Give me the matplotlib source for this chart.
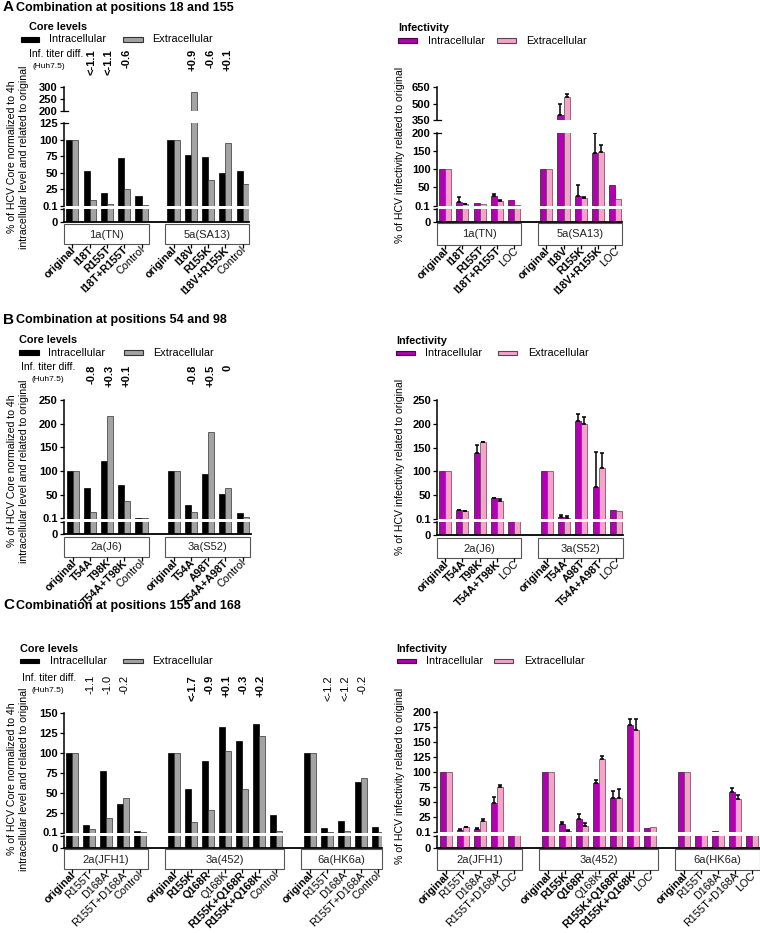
import numpy as np
import matplotlib
matplotlib.use("Agg")
import matplotlib.pyplot as plt  # noqa: E402
import matplotlib.transforms as mtransforms  # noqa: E402
from matplotlib.patches import Rectangle  # noqa: E402

plt.rcParams["font.family"] = ["Liberation Sans", "DejaVu Sans"]

W, H = 760, 933

# ---------------- data ----------------
A_groups = ["1a(TN)", "5a(SA13)"]
A_core_labels = ["original", "I18T", "R155T", "I18T+R155T", "Control",
                 "original", "I18V", "R155K", "I18V+R155K", "Control"]
A_inf_labels = ["original", "I18T", "R155T", "I18T+R155T", "LOC",
                "original", "I18V", "R155K", "I18V+R155K", "LOC"]
A_core_intra = [100, 53, 19, 72, 15, 100, 76, 74, 50, 52]
A_core_extra = [100, 9, 3, 25, 1, 100, 277, 38, 94, 33]
A_titer = ["", "<-1.1", "<-1.1", "-0.6", "", "", "+0.9", "-0.6", "+0.1", ""]
A_inf_intra = [100, 11, 6, 26, 14, 100, 397, 27, 144, 57]
A_inf_intra_err = [0, 12, 0, 6, 0, 0, 96, 30, 56, 0]
A_inf_extra = [100, 4, 3, 13, 2.5, 100, 561, 20, 148, 17]
A_inf_extra_err = [0, 1, 0, 2, 0, 0, 21, 4, 17, 0]

B_groups = ["2a(J6)", "3a(S52)"]
B_core_labels = ["original", "T54A", "T98K", "T54A+T98K", "Control",
                 "original", "T54A", "A98T", "T54A+A98T", "Control"]
B_inf_labels = ["original", "T54A", "T98K", "T54A+T98K", "LOC",
                "original", "T54A", "A98T", "T54A+A98T", "LOC"]
B_core_intra = [100, 65, 121, 71, 2, 100, 29, 94, 52, 11]
B_core_extra = [100, 13, 216, 36, 0.5, 100, 13, 182, 65, 2.5]
B_titer = ["", "-0.8", "+0.3", "+0.1", "", "", "-0.8", "+0.5", "0", ""]
B_inf_intra = [100, 18.5, 138, 43.5, 1, 100, 5, 205, 68, 18.5]
B_inf_intra_err = [0, 0.8, 17.5, 0.8, 0, 0, 4, 16, 72, 0]
B_inf_extra = [100, 17, 161, 38, 1, 100, 3, 200.5, 108, 17]
B_inf_extra_err = [0, 0.6, 1.5, 3.5, 0, 0, 3, 13.5, 31.5, 0]

C_groups = ["2a(JFH1)", "3a(452)", "6a(HK6a)"]
C_core_labels = ["original", "R155T", "D168A", "R155T+D168A", "Control",
                 "original", "R155K", "Q168R", "Q168K", "R155K+Q168R", "R155K+Q168K", "Control",
                 "original", "R155T", "D168A", "R155T+D168A", "Control"]
C_inf_labels = [lab if lab != "Control" else "LOC" for lab in C_core_labels]
C_core_intra = [100, 9.6, 78, 36, 2, 100, 54.6, 90, 133, 115, 136, 22, 100, 5.4, 15, 64, 6.6]
C_core_extra = [100, 4.6, 18, 43, 0.5, 100, 13.4, 28, 102, 55, 121, 2.5, 100, 0.5, 2.5, 69, 0.5]
C_titer = ["", "-1.1", "-1.0", "-0.2", "", "", "<-1.7", "-0.9", "+0.1", "-0.3", "+0.2", "",
           "", "<-1.2", "<-1.2", "-0.2", ""]
C_inf_intra = [100, 3.9, 6, 49.4, 1, 100, 13.3, 22.8, 82.8, 56.7, 179.4, 7.8, 100, 1, 2.2, 67.8, 1]
C_inf_intra_err = [0, 1, 1, 10, 0, 0, 3.4, 8.2, 4.4, 12.2, 9.5, 0, 0, 0, 0, 6.1, 0]
C_inf_extra = [100, 8.3, 18.3, 75, 1, 100, 2.8, 11, 121.7, 57.8, 170, 9.4, 100, 1, 1, 55, 1]
C_inf_extra_err = [0, 1, 4.5, 4.4, 0, 0, 1.1, 4, 5, 14.4, 18.9, 0, 0, 0, 0, 7.2, 0]

AB_bold = {"original", "I18T", "R155T", "I18T+R155T", "I18V", "R155K", "I18V+R155K",
           "T54A", "T98K", "T54A+T98K", "A98T", "T54A+A98T"}
C_bold = {"original", "R155K", "Q168R", "R155K+Q168R", "R155K+Q168K"}

CORE = (("#000000", "#000000"), ("#a3a3a3", "#333333"))
INF = (("#b000b0", "#4a004a"), ("#f5a3c8", "#5e4452"))
BW = 0.35

fig = plt.figure(figsize=(W / 100, H / 100), dpi=100)
base = fig.add_axes([0, 0, 1, 1])
base.set_xlim(0, W)
base.set_ylim(H, 0)
base.axis("off")


def px_axes(x0, y_top, x1, y_bot):
    return fig.add_axes([x0 / W, 1 - y_bot / H, (x1 - x0) / W, (y_bot - y_top) / H])


def positions(sizes, gap):
    out, start = [], 0.0
    for n in sizes:
        out.extend(start + np.arange(n))
        start += n + gap
    return np.array(out)


def fmt(v):
    return "0.1" if v == 0.1 else f"{v:g}"


def panel(spine, right, origin, slot, segs, box_y, sizes, gap, box_pad, groups, labels,
          bold, intra, extra, style, err_in=None, err_ex=None,
          titer=None, titer_top=None, titer_bold=None):
    pos = positions(sizes, gap)
    xlim = ((spine - origin) / slot, (right - origin) / slot)
    wpx = right - spine
    (fc_in, ec_in), (fc_ex, ec_ex) = style
    low = None
    nseg = len(segs)
    for i, (lo, hi, yb, yt, ticks) in enumerate(segs):
        ax = px_axes(spine, yt, right, yb)
        ax.set_facecolor("none")
        ax.bar(pos - BW / 2, intra, BW, color=fc_in, edgecolor=ec_in, linewidth=0.5, zorder=2)
        ax.bar(pos + BW / 2, extra, BW, color=fc_ex, edgecolor=ec_ex, linewidth=0.5, zorder=2)
        if err_in is not None:
            for off, vals, errs in ((-BW / 2, intra, err_in), (BW / 2, extra, err_ex)):
                errs = np.asarray(errs, float)
                m = errs > 0
                ax.errorbar(pos[m] + off, np.asarray(vals, float)[m],
                            yerr=[np.zeros(m.sum()), errs[m]], fmt="none", ecolor="black",
                            elinewidth=1.1, capsize=1.6, capthick=1.1, zorder=3)
        ax.set_xlim(xlim)
        ax.set_ylim(lo, hi)
        ax.set_xticks([])
        ax.set_yticks(ticks)
        ax.set_yticklabels(["" if (i == 0 and t == hi) else fmt(t) for t in ticks],
                           fontsize=8, fontweight="bold")
        ax.tick_params(axis="y", length=3, width=0.9, pad=1.5)
        ax.spines[["top", "right"]].set_visible(False)
        ax.spines["left"].set_linewidth(1.1)
        if i == 0:
            ax.spines["bottom"].set_linewidth(1.3)
            low = ax
        else:
            ax.spines["bottom"].set_visible(False)
        tr = mtransforms.blended_transform_factory(ax.transAxes, ax.transData)
        hooks = []
        if 1 <= i < nseg - 1:
            hooks.append(hi)
        if i >= 2:
            hooks.append(lo)
        for hv in hooks:
            ax.plot([0, 4 / wpx], [hv, hv], transform=tr, color="black", lw=0.9, clip_on=False)

    trans = mtransforms.blended_transform_factory(low.transData, base.transData)
    start = 0
    for g, n in enumerate(sizes):
        a = max(pos[start] - 0.5, xlim[0])
        b = min(pos[start + n - 1] + box_pad, xlim[1])
        base.add_patch(Rectangle((a, box_y[0]), b - a, box_y[1] - box_y[0], transform=trans,
                                 facecolor="white", edgecolor="#555555", lw=0.8, clip_on=False))
        base.text((a + b) / 2, (box_y[0] + box_y[1]) / 2 + 0.5, groups[g], transform=trans,
                  ha="center", va="center", fontsize=8, color="#222222")
        start += n
    base.vlines(pos, box_y[1], box_y[1] + 3.5, transform=trans, color="black", lw=0.9)
    for x, lab in zip(pos, labels):
        base.text(x + 0.12, box_y[1] + 4.0, lab, transform=trans, rotation=45,
                  rotation_mode="anchor", ha="right", va="center", fontsize=7.8,
                  fontweight="bold" if lab in bold else "normal")
    if titer is not None:
        start = 0
        for g, n in enumerate(sizes):
            for k in range(start, start + n):
                if titer[k]:
                    base.text(pos[k] + 0.12, titer_top, titer[k], transform=trans, rotation=90,
                              ha="center", va="top", fontsize=8,
                              fontweight="bold" if titer_bold[g] else "normal")
            start += n


def key(x0, x1, yc, fc, ec, tx, txt):
    base.add_patch(Rectangle((x0, yc - 2.2), x1 - x0, 4.4, facecolor=fc, edgecolor=ec, lw=0.8))
    base.text(tx, yc, txt, fontsize=7.8, va="center", ha="left")


def header(xh, yh, head, style, kx, yk):
    base.text(xh, yh, head, fontsize=7.8, fontweight="bold", va="center", ha="left")
    (fi, ei), (fe, ee) = style
    key(kx[0], kx[1], yk, fi, ei, kx[2], "Intracellular")
    key(kx[3], kx[4], yk, fe, ee, kx[5], "Extracellular")


def titer_head(x, y, hx):
    base.text(x, y, "Inf. titer diff.", fontsize=7.5, va="center", ha="left")
    base.text(hx, y + 12.5, "(Huh7.5)", fontsize=6, va="center", ha="left")


CORE_YLABEL = "% of HCV Core normalized to 4h\nintracellular level and related to original"
INF_YLABEL = "% of HCV infectivity related to original"


def ylabel(x, y, txt):
    base.text(x, y, txt, rotation=90, ha="center", va="center", multialignment="center",
              fontsize=7.6, linespacing=1.2)


def title(y, letter, txt):
    base.text(3, y, letter, fontsize=11, fontweight="bold", va="center", ha="left")
    base.text(16, y + 0.5, txt, fontsize=9, fontweight="bold", va="center", ha="left")


# ---------------- panel A ----------------
title(7.2, "A", "Combination at positions 18 and 155")
header(29.3, 26.7, "Core levels", CORE, (20.7, 39.3, 49.3, 123, 143, 151.7), 39.5)
titer_head(29.3, 54, 32.3)
ylabel(18.3, 157, CORE_YLABEL)
panel(64, 249, 72.3, 17.3,
      [(0, 0.1, 221.7, 208.5, [0, 0.1]),
       (0.1, 125, 205.5, 123, [0.1, 25, 50, 75, 100, 125]),
       (200, 300, 110.7, 86.7, [200, 250, 300])],
      (224, 244.3), [5, 5], 0.85, 0.42, A_groups, A_core_labels, AB_bold,
      A_core_intra, A_core_extra, CORE, titer=A_titer, titer_top=49, titer_bold=[True, True])

header(398.3, 28.3, "Infectivity", INF, (398, 416.7, 427.7, 497, 516, 525.7), 40.5)
ylabel(400, 155, INF_YLABEL)
panel(436.7, 622.3, 445, 17.3,
      [(0, 0.1, 221.7, 208.5, [0, 0.1]),
       (0.1, 200, 205.5, 132.7, [0.1, 50, 100, 150, 200]),
       (350, 650, 120.3, 86.7, [350, 500, 650])],
      (222.7, 245), [5, 5], 0.85, 0.42, A_groups, A_inf_labels, AB_bold,
      A_inf_intra, A_inf_extra, INF, A_inf_intra_err, A_inf_extra_err)

# ---------------- panel B ----------------
title(320, "B", "Combination at positions 54 and 98")
header(19.3, 340, "Core levels", CORE, (19.3, 39.3, 48.3, 124, 142.7, 152.7), 352.5)
titer_head(20.7, 367.3, 31)
ylabel(18.3, 471, CORE_YLABEL)
panel(64, 250.7, 72.7, 17.2,
      [(0, 0.1, 534.3, 521.5, [0, 0.1]),
       (0.1, 250, 518.5, 400, [0.1, 50, 100, 150, 200, 250])],
      (536.7, 557.3), [5, 5], 0.88, 0.42, B_groups, B_core_labels, AB_bold,
      B_core_intra, B_core_extra, CORE, titer=B_titer, titer_top=365, titer_bold=[True, True])

header(396, 340.7, "Infectivity", INF, (396, 415, 425, 498.3, 517.3, 528.3), 352.7)
ylabel(400, 467, INF_YLABEL)
panel(437.3, 623.3, 445, 17.3,
      [(0, 0.1, 535.3, 522, [0, 0.1]),
       (0.1, 250, 519, 400, [0.1, 50, 100, 150, 200, 250])],
      (537.7, 558.3), [5, 5], 0.88, 0.42, B_groups, B_inf_labels, AB_bold,
      B_inf_intra, B_inf_extra, INF, B_inf_intra_err, B_inf_extra_err)

# ---------------- panel C ----------------
title(605, "C", "Combination at positions 155 and 168")
header(20, 649.3, "Core levels", CORE, (20, 39.3, 50, 123.3, 142.7, 151.7), 661)
titer_head(21.7, 678.3, 31)
ylabel(18.3, 779, CORE_YLABEL)
panel(64, 382, 71.7, 17,
      [(0, 0.1, 848.3, 835.5, [0, 0.1]),
       (0.1, 150, 832.5, 713.3, [0.1, 25, 50, 75, 100, 125, 150])],
      (849.3, 869.3), [5, 7, 5], 1.0, 0.5, C_groups, C_core_labels, C_bold,
      C_core_intra, C_core_extra, CORE, titer=C_titer, titer_top=675,
      titer_bold=[False, True, False])

header(396.7, 649.3, "Infectivity", INF, (396.7, 415.7, 426, 494.3, 513.3, 524.3), 661)
ylabel(400, 776, INF_YLABEL)
panel(437.3, 760, 445.7, 17,
      [(0, 0.1, 847.7, 836.3, [0, 0.1]),
       (0.1, 200, 832.3, 712.3, [0.1, 25, 50, 75, 100, 125, 150, 175, 200])],
      (849.3, 870), [5, 7, 5], 1.0, 0.5, C_groups, C_inf_labels, C_bold,
      C_inf_intra, C_inf_extra, INF, C_inf_intra_err, C_inf_extra_err)

fig.savefig("out.png", dpi=100)
